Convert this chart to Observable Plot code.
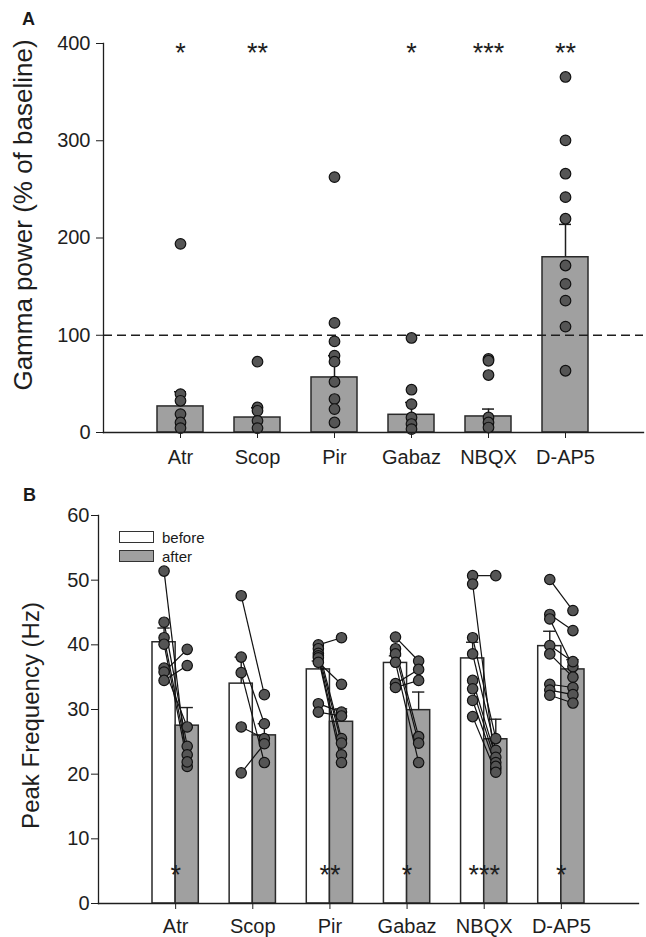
<!DOCTYPE html>
<html>
<head>
<meta charset="utf-8">
<script src="https://cdn.jsdelivr.net/npm/d3@7"></script>
<script src="https://cdn.jsdelivr.net/npm/@observablehq/plot@0.6"></script>
<style>
  html, body { margin: 0; padding: 0; background: #fff; }
  #fig { position: relative; width: 646px; height: 937px; overflow: hidden; font-family: "Liberation Sans", Arial, sans-serif; color: #1a1a1a; }
  #fig svg { display: block; }
  .panel { position: absolute; font-weight: bold; font-size: 18px; line-height: 18px; }
  .sw { position: absolute; width: 33px; height: 10px; border: 1.3px solid #333; }
  .lg { position: absolute; font-size: 15px; line-height: 15px; }
</style>
</head>
<body>
<div id="fig">
  <div id="plotA"></div>
  <div id="plotB"></div>
  <div class="panel" style="left:22px;top:10px">A</div>
  <div class="panel" style="left:23px;top:486px">B</div>
  <div class="sw" style="left:119px;top:531px;background:#fff"></div>
  <div class="sw" style="left:119px;top:550px;background:#a0a0a0"></div>
  <div class="lg" style="left:162px;top:530px">before</div>
  <div class="lg" style="left:162px;top:549px">after</div>
</div>
<script>
// ---------- data ----------
const categories = ["Atr", "Scop", "Pir", "Gabaz", "NBQX", "D-AP5"];

// Panel A: gamma power (% of baseline)
const gammaMean = [26.8, 15.4, 56.6, 18.2, 16.5, 180.2];
const gammaSem  = [15.1, 10.0, 22.4, 12.7, 7.6, 33.8];
const gammaDots = [
  [194.0, 39.5, 32.6, 18.9, 10.3, 4.5],
  [72.8, 25.7, 22.3, 12.0, 4.5],
  [262.6, 112.7, 93.7, 79.0, 72.8, 52.2, 34.4, 24.1, 10.3],
  [97.2, 44.0, 29.2, 15.4, 8.7, 3.5],
  [75.6, 73.8, 59.1, 15.4, 10.3, 5.1],
  [365.6, 300.4, 266.1, 242.0, 219.8, 171.7, 152.8, 135.6, 108.9, 63.5]
];
const gammaStars = ["*", "**", "", "*", "***", "**"];
const gammaTicks = [0, 100, 200, 300, 400];
const baselineLevel = 100;

// Panel B: peak frequency (Hz)
const freqBeforeMean = [40.4, 34.0, 36.2, 37.2, 37.9, 39.8];
const freqBeforeSem  = [2.2, 4.1, 1.3, 1.1, 2.5, 2.3];
const freqAfterMean  = [27.5, 26.0, 28.1, 29.9, 25.4, 36.2];
const freqAfterSem   = [2.8, 1.8, 2.0, 2.8, 3.1, 1.5];
const freqBefore = [
  [51.4, 43.5, 41.1, 40.1, 36.4, 35.8, 34.5],
  [47.6, 38.1, 35.7, 27.3, 20.2],
  [40.0, 39.4, 38.7, 38.3, 38.0, 37.3, 30.9, 29.6],
  [41.2, 39.4, 38.6, 37.3, 34.0, 33.4],
  [50.7, 49.4, 41.1, 38.6, 34.5, 33.2, 31.4, 28.9],
  [50.1, 44.7, 44.0, 39.9, 38.6, 33.9, 33.0, 32.2]
];
const freqAfter = [
  [21.2, 24.3, 23.0, 21.9, 27.3, 39.3, 36.8],
  [32.3, 27.8, 21.8, 25.5, 24.7],
  [41.1, 25.5, 24.8, 23.0, 21.8, 33.9, 29.6, 29.0],
  [37.5, 25.8, 24.8, 21.8, 36.2, 34.5],
  [50.7, 20.8, 25.5, 23.7, 22.6, 21.8, 21.2, 20.3],
  [45.3, 42.2, 36.6, 37.4, 35.0, 33.4, 32.3, 31.0]
];
const freqStars = ["*", "", "**", "*", "***", "*"];
const freqTicks = [0, 10, 20, 30, 40, 50, 60];

// ---------- derived tables ----------
const rowsA = categories.map((c, i) => ({cat: c, mean: gammaMean[i], sem: gammaSem[i], star: gammaStars[i]}));
const dotsA = categories.flatMap((c, i) => gammaDots[i].map(v => ({cat: c, v})));

const rowsB = categories.map((c, i) => ({
  cat: c, pos: i + 1,
  b: freqBeforeMean[i], bs: freqBeforeSem[i],
  a: freqAfterMean[i], as: freqAfterSem[i],
  star: freqStars[i]
}));
const pairsB = categories.flatMap((c, i) => freqBefore[i].map((v, j) => ({pos: i + 1, b: v, a: freqAfter[i][j]})));

const FONT = "'Liberation Sans', Arial, Helvetica, sans-serif";
const BAR_GREY = "#a0a0a0";
const DOT_FILL = "#555555";
const INK = "#1e1e1e";
const HALF = 0.3;   // half pair width (x units) in panel B
const OFF = 0.15;   // centre of each bar in the pair
const CAP = 0.08;   // half cap width

// ---------- Panel A ----------
const plotA = Plot.plot({
  width: 646, height: 470,
  marginLeft: 103, marginRight: 3, marginTop: 43, marginBottom: 38,
  style: {fontFamily: FONT, fontSize: "20px", color: INK, background: "transparent", overflow: "visible"},
  x: {type: "band", domain: categories, paddingInner: 0.4, paddingOuter: 0.7, label: null},
  y: {domain: [0, 400], label: null},
  marks: [
    Plot.barY(rowsA, {x: "cat", y: "mean", fill: BAR_GREY, stroke: "#2a2a2a", strokeWidth: 1.5}),
    Plot.ruleY([baselineLevel], {stroke: INK, strokeWidth: 1.5, strokeDasharray: "9,5"}),
    Plot.ruleX(rowsA, {x: "cat", y1: "mean", y2: d => d.mean + d.sem, stroke: INK, strokeWidth: 1.5}),
    Plot.tickY(rowsA, {x: "cat", y: d => d.mean + d.sem, insetLeft: 17, insetRight: 17, stroke: INK, strokeWidth: 1.5}),
    Plot.dot(dotsA, {x: "cat", y: "v", r: 5.3, fill: DOT_FILL, stroke: "#111", strokeWidth: 1.2}),
    Plot.text(rowsA, {x: "cat", text: "star", frameAnchor: "top", lineAnchor: "middle", dy: 9.7, fontSize: 27, fill: INK, ariaLabel: "stars"}),
    Plot.axisY({ticks: gammaTicks, tickSize: 7, tickPadding: 6, fontSize: 20, label: null}),
    Plot.axisX({tickSize: 6, tickPadding: 11, fontSize: 20, label: null}),
    Plot.frame({anchor: "left", stroke: INK, strokeWidth: 1.3}),
    Plot.frame({anchor: "bottom", stroke: INK, strokeWidth: 1.3}),
    Plot.text(["Gamma power (% of baseline)"], {text: d => d, frameAnchor: "left", textAnchor: "middle", lineAnchor: "middle", rotate: -90, dx: -80, dy: -23, fontSize: 26, fill: INK})
  ]
});

// ---------- Panel B ----------
const plotB = Plot.plot({
  width: 646, height: 467,
  marginLeft: 98, marginRight: 8, marginTop: 45, marginBottom: 34,
  style: {fontFamily: FONT, fontSize: "20px", color: INK, background: "transparent", overflow: "visible"},
  x: {type: "linear", domain: [0, categories.length + 1], label: null},
  y: {domain: [0, 60], label: null},
  marks: [
    Plot.rect(rowsB, {x1: d => d.pos - HALF, x2: "pos", y1: 0, y2: "b", fill: "white", stroke: "#2a2a2a", strokeWidth: 1.5}),
    Plot.rect(rowsB, {x1: "pos", x2: d => d.pos + HALF, y1: 0, y2: "a", fill: BAR_GREY, stroke: "#2a2a2a", strokeWidth: 1.5}),
    Plot.ruleX(rowsB, {x: d => d.pos - OFF, y1: "b", y2: d => d.b + d.bs, stroke: INK, strokeWidth: 1.4}),
    Plot.ruleY(rowsB, {y: d => d.b + d.bs, x1: d => d.pos - OFF - CAP, x2: d => d.pos - OFF + CAP, stroke: INK, strokeWidth: 1.4}),
    Plot.ruleX(rowsB, {x: d => d.pos + OFF, y1: "a", y2: d => d.a + d.as, stroke: INK, strokeWidth: 1.4}),
    Plot.ruleY(rowsB, {y: d => d.a + d.as, x1: d => d.pos + OFF - CAP, x2: d => d.pos + OFF + CAP, stroke: INK, strokeWidth: 1.4}),
    Plot.link(pairsB, {x1: d => d.pos - OFF, x2: d => d.pos + OFF, y1: "b", y2: "a", stroke: "#111", strokeWidth: 1.2}),
    Plot.dot(pairsB, {x: d => d.pos - OFF, y: "b", r: 5.2, fill: DOT_FILL, stroke: "#111", strokeWidth: 1.2}),
    Plot.dot(pairsB, {x: d => d.pos + OFF, y: "a", r: 5.2, fill: DOT_FILL, stroke: "#111", strokeWidth: 1.2}),
    Plot.text(rowsB, {x: "pos", text: "star", frameAnchor: "bottom", lineAnchor: "middle", dy: -27.7, fontSize: 27, fill: INK, ariaLabel: "stars"}),
    Plot.axisY({ticks: freqTicks, tickSize: 7, tickPadding: 2, fontSize: 20, label: null}),
    Plot.axisX({ticks: categories.map((c, i) => i + 1), tickFormat: d => categories[d - 1], tickSize: 6, tickPadding: 9, fontSize: 20, label: null}),
    Plot.frame({anchor: "left", stroke: INK, strokeWidth: 1.3}),
    Plot.frame({anchor: "bottom", stroke: INK, strokeWidth: 1.3}),
    Plot.text(["Peak Frequency (Hz)"], {text: d => d, frameAnchor: "left", textAnchor: "middle", lineAnchor: "middle", rotate: -90, dx: -67, dy: 6, fontSize: 24, fill: INK})
  ]
});

document.getElementById("plotA").appendChild(plotA);
document.getElementById("plotB").appendChild(plotB);
d3.selectAll('#fig g[aria-label="stars"] text').style("letter-spacing", "2.8px");
</script>
</body>
</html>
